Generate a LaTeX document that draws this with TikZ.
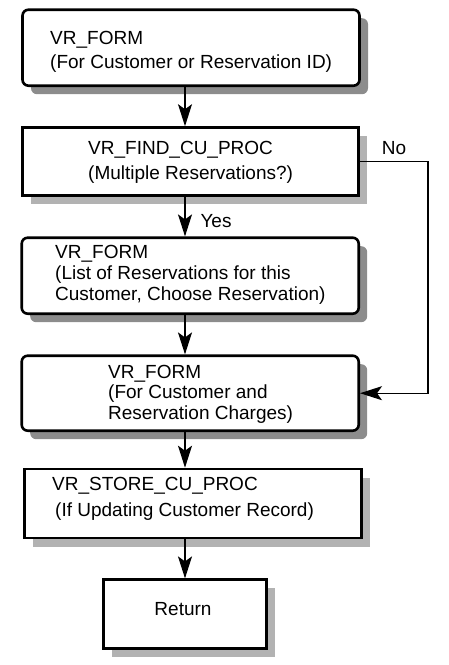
\documentclass[tikz,border=0pt]{standalone}
\usepackage{fontspec}
\setmainfont{Liberation Sans}
\usetikzlibrary{arrows.meta, positioning, calc, shadows}

\begin{document}
\begin{tikzpicture}[
    x=1pt, y=-1pt,
    every node/.style={font=\fontsize{19}{24.5}\selectfont},
    form/.style={draw, fill=white, line width=2.6pt, rounded corners=6pt,
        drop shadow={shadow xshift=8.5pt, shadow yshift=-8.5pt, fill=black!45, opacity=1}},
    proc/.style={draw, fill=white, line width=2.6pt,
        drop shadow={shadow xshift=8.5pt, shadow yshift=-8.5pt, fill=black!30, opacity=1}},
    txt/.style={inner sep=0pt, align=left, anchor=west},
    arrow/.style={-{Stealth[length=22pt, width=14pt, inset=5pt]}, line width=1.1pt}
]
\useasboundingbox (0,0) rectangle (448,665);

% === BOXES ===
\node[form, minimum width=337pt, minimum height=76pt] (b1) at (191,47.7) {};
\node[proc, minimum width=336pt, minimum height=68pt] (b2) at (190.6,161.5) {};
\node[form, minimum width=337pt, minimum height=76pt] (b3) at (190.2,275.7) {};
\node[form, minimum width=337pt, minimum height=75pt] (b4) at (190.2,393.2) {};
\node[proc, minimum width=337pt, minimum height=69pt] (b5) at (192.7,503.5) {};
\node[proc, minimum width=163pt, minimum height=69pt] (b6) at (184.7,614.2) {};

% === TEXTS ===
\node[txt] (t1) at (50,51.7) {VR\_FORM\\(For Customer or Reservation ID)};
\node[txt] (t2) at (88,162.5) {VR\_FIND\_CU\_PROC\\(Multiple Reservations?)};
\node[txt, font=\fontsize{19}{21}\selectfont] (t3) at (55,275)
    {VR\_FORM\\(List of Reservations for this\\Customer, Choose Reservation)};
\node[txt, font=\fontsize{19}{20.3}\selectfont] (t4) at (108,394.3)
    {VR\_FORM\\(For Customer and\\Reservation Charges)};
\node[txt, font=\fontsize{19}{26}\selectfont] (t5) at (52,498.8)
    {VR\_STORE\_CU\_PROC\\\hspace*{3pt}(If Updating Customer Record)};
\node[inner sep=0pt] (t6) at (183,609.2) {Return};

% === CONNECTORS ===
\coordinate (spine) at (185,0);
\coordinate (noturn) at (428,0);
\draw[arrow] (b1.south -| spine) -- (b2.north -| spine);
\draw[arrow] (b2.south -| spine) -- node[pos=0.6, right=15pt, inner sep=0pt] {Yes} (b3.north -| spine);
\draw[arrow] (b3.south -| spine) -- (b4.north -| spine);
\draw[arrow] (b4.south -| spine) -- (b5.north -| spine);
\draw[arrow] (b5.south -| spine) -- (b6.north -| spine);
\draw[arrow] (b2.east) -- node[pos=0.5, above=6pt, inner sep=0pt] {No} (b2.east -| noturn) |- (b4.east);

\end{tikzpicture}
\end{document}
